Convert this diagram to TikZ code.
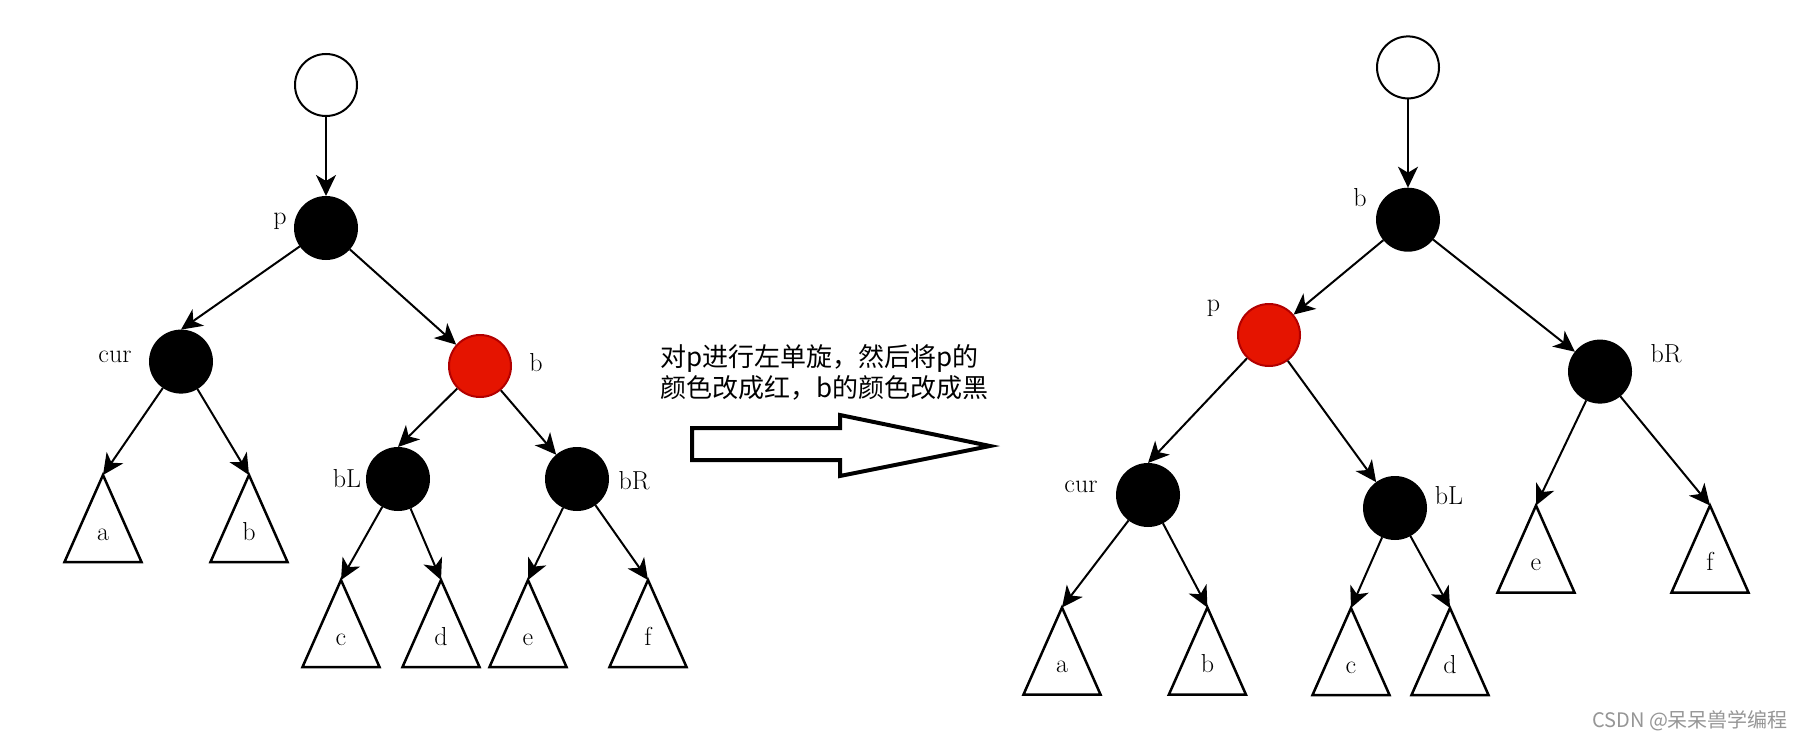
\documentclass[tikz,border=0pt]{standalone}
\usepackage{fontspec}
\newfontfamily\cjk{Noto Sans CJK SC}
\usetikzlibrary{arrows.meta,calc}
\definecolor{redfill}{RGB}{229,20,0}
\definecolor{redline}{RGB}{178,0,0}
\definecolor{wmgray}{RGB}{150,150,150}
\tikzset{
 rbnode/.style={circle,minimum size=62pt,inner sep=0pt,line width=2pt},
 blacknode/.style={rbnode,fill=black,draw=black},
 rednode/.style={rbnode,fill=redfill,draw=redline},
 whitenode/.style={rbnode,fill=white,draw=black},
 edge/.style={line width=2pt,-{Stealth[length=21pt,width=20pt,inset=6pt]}},
 tri/.style={draw,line width=2.5pt,line join=miter},
 lbl/.style={font=\fontsize{26}{30}\selectfont,inner sep=0pt},
 bigarrow/.style={draw,line width=4pt,line join=miter,fill=white},
 note/.style={font=\cjk\fontsize{26}{30}\selectfont,inner sep=0pt,anchor=west}
}
\newcommand\tritree[4]{%
 \coordinate (#1) at (#2,#3);
 \draw[tri] (#1) -- ++(-38.5,87) -- ++(77,0) -- cycle;
 \node[lbl,anchor=base] (#1-l) at ($(#1)+(0,65)$) {#4};
}
\begin{document}
\begin{tikzpicture}[x=1pt,y=-1pt]
\fill[white] (0,0) rectangle (1797,744);
\useasboundingbox (0,0) rectangle (1797,744);

% ---------- left tree ----------
\node[whitenode] (rootL) at (326,85) {};
\node[blacknode] (pL) at (326,228) {};
\node[blacknode] (curL) at (181,361.6) {};
\node[rednode] (bL) at (480,366) {};
\node[blacknode] (bLL) at (398,479) {};
\node[blacknode] (bRL) at (577,479) {};

\node[lbl] (lpL) at (280,221) {p};
\node[lbl] (lcurL) at (115,357) {cur};
\node[lbl] (lbL) at (536,363) {b};
\node[lbl] (lbLL) at (347,479) {bL};
\node[lbl] (lbRL) at (634,481) {bR};

\tritree{taL}{103}{475}{a}
\tritree{tbL}{249}{475}{b}
\tritree{tcL}{341}{580}{c}
\tritree{tdL}{441}{580}{d}
\tritree{teL}{528}{580}{e}
\tritree{tfL}{648}{580}{f}

\draw[edge] (rootL) -- (pL);
\draw[edge] (pL) -- (curL.north);
\draw[edge] (pL) -- (bL);
\draw[edge] (curL) -- (taL);
\draw[edge] (curL) -- (tbL);
\draw[edge] (bL) -- (bLL.north);
\draw[edge] (bL) -- (bRL);
\draw[edge] (bLL) -- (tcL);
\draw[edge] (bLL) -- (tdL);
\draw[edge] (bRL) -- (teL);
\draw[edge] (bRL) -- (tfL);

% ---------- middle ----------
\node[note] (t1) at (660,358) {对p进行左单旋，然后将p的};
\node[note] (t2) at (660,388) {颜色改成红，b的颜色改成黑};
\draw[bigarrow] (692,428) -- (840,428) -- (840,415) -- (990,446) -- (840,476) -- (840,460) -- (692,460) -- cycle;

% ---------- right tree ----------
\node[whitenode] (rootR) at (1408,67.4) {};
\node[blacknode] (bR) at (1408,219.7) {};
\node[rednode] (pR) at (1269,335) {};
\node[blacknode] (bRR) at (1600,371.6) {};
\node[blacknode] (curR) at (1148,495) {};
\node[blacknode] (bLR) at (1395,508) {};

\node[lbl] (lbR) at (1360,198) {b};
\node[lbl] (lpR) at (1213.5,308.5) {p};
\node[lbl] (lbRR) at (1666,353.6) {bR};
\node[lbl] (lcurR) at (1081,486.5) {cur};
\node[lbl] (lbLR) at (1449,496) {bL};

\tritree{taR}{1062}{607.5}{a}
\tritree{tbR}{1207.4}{607.5}{b}
\tritree{tcR}{1351}{608}{c}
\tritree{tdR}{1450}{608}{d}
\tritree{teR}{1536}{505.5}{e}
\tritree{tfR}{1710}{505.5}{f}

\draw[edge] (rootR) -- (bR);
\draw[edge] (bR) -- (pR);
\draw[edge] (bR) -- (bRR);
\draw[edge] (pR) -- (curR.north);
\draw[edge] (pR) -- (bLR);
\draw[edge] (curR) -- (taR);
\draw[edge] (curR) -- (tbR);
\draw[edge] (bLR) -- (tcR);
\draw[edge] (bLR) -- (tdR);
\draw[edge] (bRR) -- (teR);
\draw[edge] (bRR) -- (tfR);

\node[font=\cjk\fontsize{20}{24}\selectfont,text=wmgray,anchor=west,inner sep=0pt] (wm) at (1592,721) {CSDN @呆呆兽学编程};
\end{tikzpicture}
\end{document}
